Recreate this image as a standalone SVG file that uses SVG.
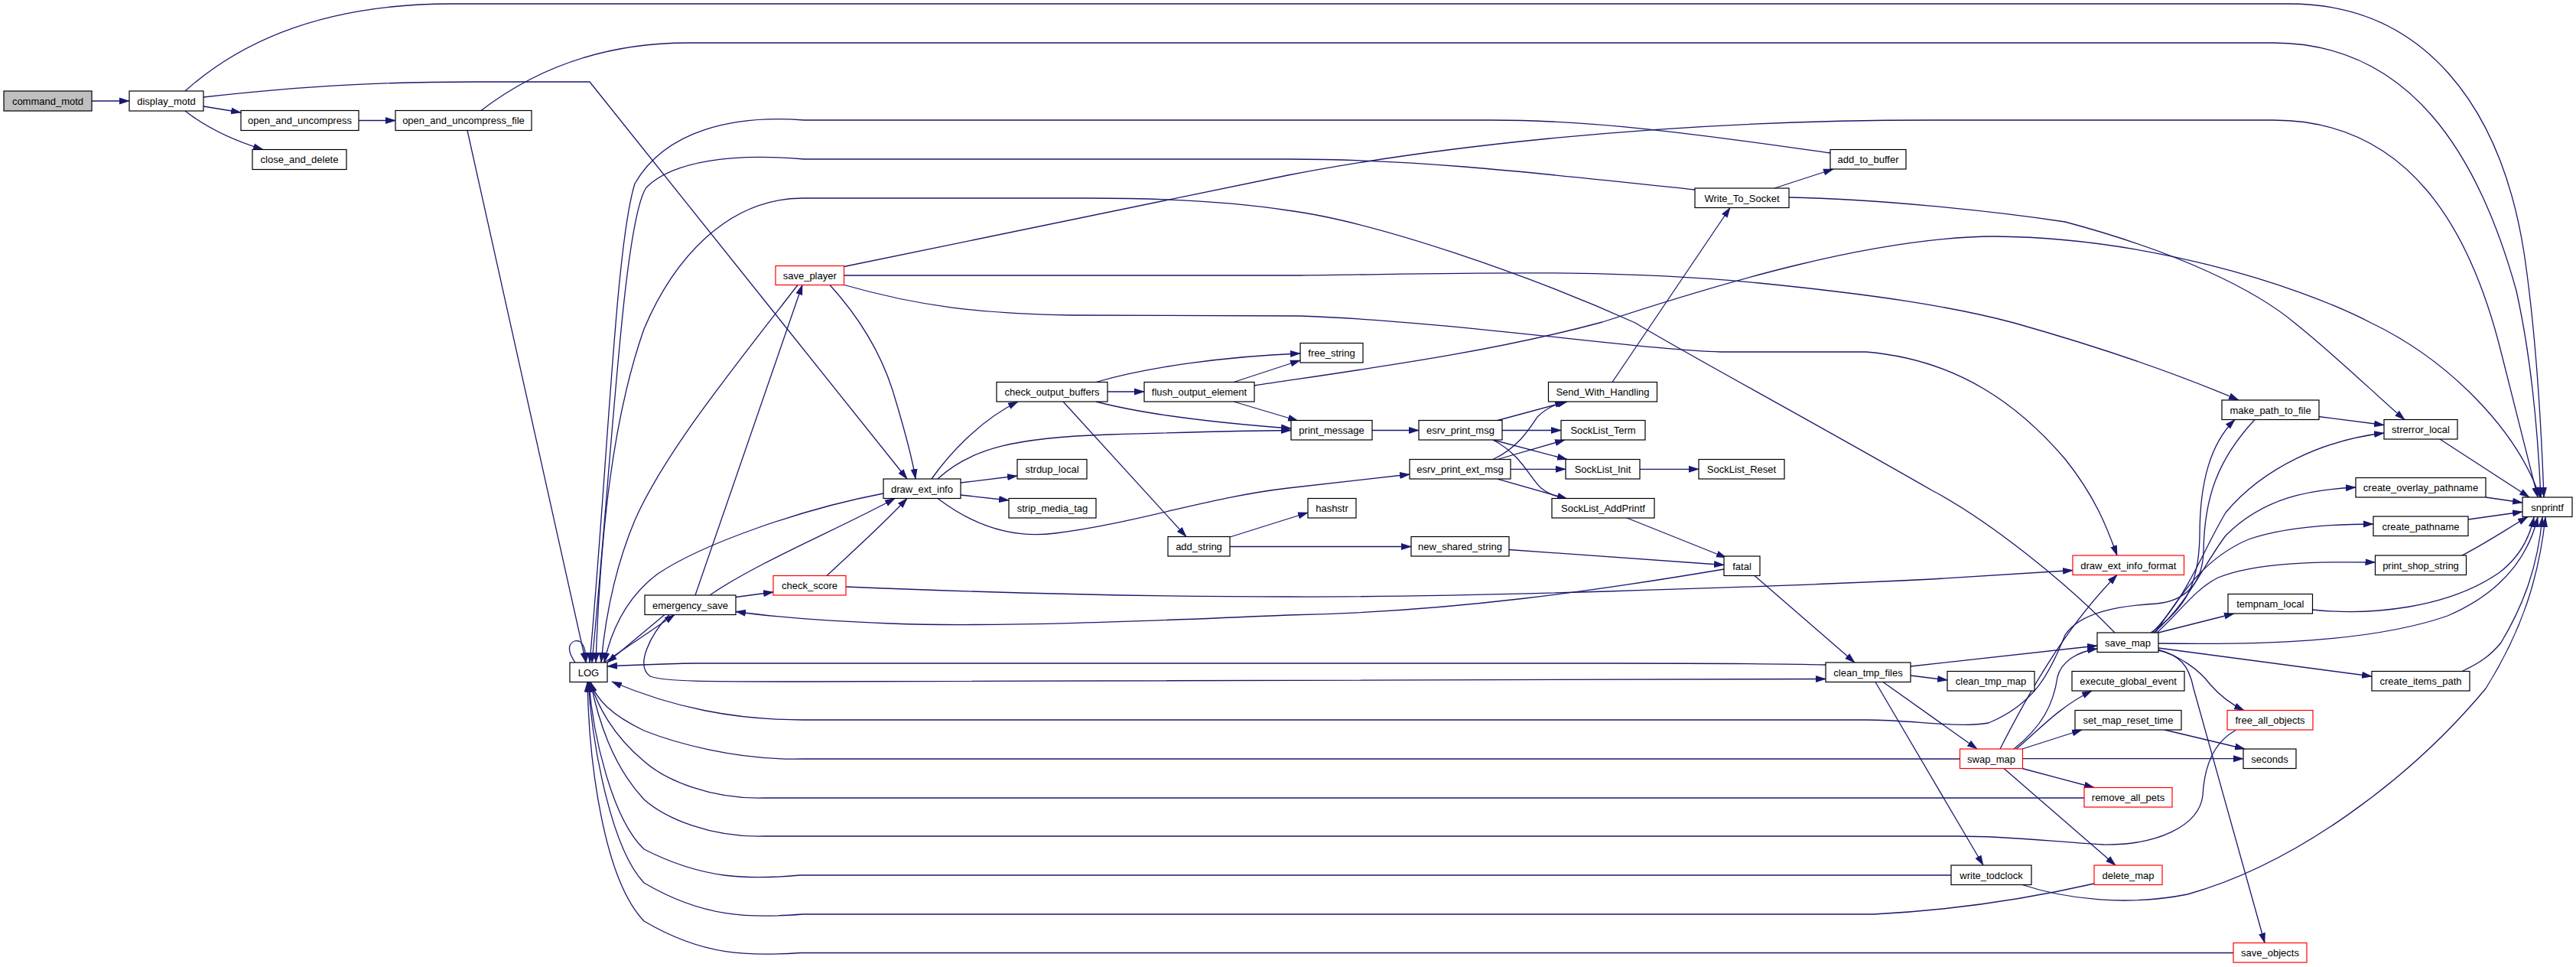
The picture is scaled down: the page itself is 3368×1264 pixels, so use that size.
<svg xmlns="http://www.w3.org/2000/svg" width="3368" height="1264" viewBox="0 0 3368 1264">
<style>
.n rect{fill:#fff;stroke:#000;stroke-width:1.2}
.n.r rect{stroke:#ff0000}
.n.root rect{fill:#bfbfbf}
.n text{font-family:"Liberation Sans",Arial,sans-serif;font-size:13px;fill:#000;text-anchor:middle}
.e path{fill:none;stroke:#191970;stroke-width:1.3;marker-end:url(#a)}
</style>
<defs>
<marker id="a" markerWidth="14" markerHeight="10" refX="13" refY="5" orient="auto" markerUnits="userSpaceOnUse"><path d="M0,0.5 L14,5 L0,9.5 z" fill="#191970"/></marker>
</defs>
<rect width="3368" height="1264" fill="#fff"/>
<g id="edges" class="e">
<path d="M120,132 L169,132"/>
<path d="M242,119 C330,40 450,5 590,5 L2993,5 C3170,5 3270,140 3300,330 C3315,430 3322,540 3326,650"/>
<path d="M266,127 C400,112 500,107 620,107 L771,107 L1186,626"/>
<path d="M266,139 L315,147"/>
<path d="M242,145 C265,163 300,182 344,195.5"/>
<path d="M469,157.5 L517,157.5"/>
<path d="M629,144.5 C700,90 790,56 900,56 L2972,56 C3150,56 3240,200 3290,380 C3310,470 3318,560 3322,650"/>
<path d="M611,170.5 L766,866"/>
<path d="M752,866 C738,846 746,836 757,838 C764,841 766,852 766,866"/>
<path d="M1103.5,348.5 L1684,229 C1850,197 2150,157 2526,157 L2972,157 C3150,157 3230,300 3270,460 C3290,540 3305,600 3318,650"/>
<path d="M1103.5,360 L1700,360 C1900,358 2100,350 2300,370 C2450,385 2550,400 2633,422 C2750,455 2850,490 2927,523"/>
<path d="M1104,372.5 C1200,400 1280,410 1400,412 L1700,413 C1900,420 2150,458 2250,460 L2440,460 C2560,470 2640,530 2700,600 C2740,650 2755,690 2768,726"/>
<path d="M1043,372.5 C960,480 870,590 830,680 C805,740 792,800 786,866"/>
<path d="M1085,372.5 C1110,400 1150,450 1170,520 C1185,570 1193,600 1197,626"/>
<path d="M909,778 L1049,372.5"/>
<path d="M928,778 C990,735 1100,690 1170,651.5"/>
<path d="M1081,752.5 C1110,725 1150,690 1186,651.5"/>
<path d="M1155,645 C1050,665 920,710 860,750 C820,780 800,820 790,866"/>
<path d="M962,780.5 L1011,774"/>
<path d="M1106,767 C1300,775 1500,780 1684,780 C1900,781 2300,768 2526,757 L2710,745.5"/>
<path d="M2254,744 C2100,770 1900,800 1684,804 C1500,812 1300,820 1164,815 C1080,812 1010,806 962,799.5"/>
<path d="M1218,626 C1240,595 1280,550 1331,525"/>
<path d="M1226,626 C1270,585 1330,572 1450,568 C1550,565 1620,563 1688,562.5"/>
<path d="M1256,631 L1330,622"/>
<path d="M1256,647 L1319,654"/>
<path d="M1226,651.5 C1270,685 1320,705 1380,697 C1480,685 1580,650 1684,638 L1843,620"/>
<path d="M1448,512 L1496,512"/>
<path d="M1433,499.5 C1500,480 1600,466 1700,462"/>
<path d="M1613,499.5 L1700,471"/>
<path d="M1433,525 C1490,540 1580,552 1688,560"/>
<path d="M1613,525 L1697,550"/>
<path d="M1390,525 L1551,701.5"/>
<path d="M1608,702 L1710,670"/>
<path d="M1608,714.5 L1845,714.5"/>
<path d="M1973,718.5 L2254,738.5"/>
<path d="M2127,677 L2257,729"/>
<path d="M2294,752.5 L2425,866"/>
<path d="M1794,562.5 L1855,562.5"/>
<path d="M1958,549.5 L2049,525"/>
<path d="M1964,562.5 L2041,562.5"/>
<path d="M1952,575 L2049,600.5"/>
<path d="M1952,575 C1990,595 2000,625 2015,638 C2025,646 2035,650 2049,652"/>
<path d="M1952,600.5 C1985,585 2000,560 2010,545 C2020,535 2035,528 2046,525"/>
<path d="M1958,600.5 L2046,575"/>
<path d="M1975,613.3 L2047,613.3"/>
<path d="M1958,626 L2049,652"/>
<path d="M2144,613.3 L2221,613.3"/>
<path d="M2108,499.5 L2262,271.5"/>
<path d="M2320,246 L2397,221"/>
<path d="M2216,248 C2000,225 1850,208 1684,208 L1051,208 C960,200 880,210 845,245 C815,290 800,600 774,866"/>
<path d="M2393,200 C2250,180 2100,157 1950,157 L1051,157 C960,150 870,170 830,240 C805,320 795,600 771,866"/>
<path d="M2339,258 C2450,260 2600,275 2700,290 C2850,330 2950,380 3000,422 C3060,470 3110,520 3144,548.5"/>
<path d="M1640,504 C1800,480 1950,460 2095,421 C2250,370 2450,310 2607,309 C2800,310 3000,370 3100,422 C3200,470 3290,560 3321,650"/>
<path d="M2765,827 C2700,760 2600,680 2526,641 C2350,540 2200,460 2138,422 C2000,360 1800,290 1684,275 C1600,262 1500,259 1422,259 L1050,259 C950,259 880,340 842,430 C800,550 785,700 779,866"/>
<path d="M3031,544.5 L3117,555.5"/>
<path d="M3190,574 L3307,650"/>
<path d="M3250,650 L3298,657"/>
<path d="M3227,679 L3298,669"/>
<path d="M3219,726 C3250,710 3280,690 3305,675.5"/>
<path d="M3023,797 C3100,805 3200,795 3267,749 C3295,728 3308,700 3313,676"/>
<path d="M2822,841 C2950,843 3100,840 3200,805 C3270,775 3305,730 3318,676"/>
<path d="M2644,1156.5 C2700,1175 2780,1185 2860,1169 C3000,1130 3150,1020 3250,900 C3300,820 3320,750 3328,676"/>
<path d="M3219,877.5 C3245,865 3258,855 3270,840 C3300,790 3318,740 3324,676"/>
<path d="M2822,827 L2921,802"/>
<path d="M2820,827 C2850,800 2870,770 2900,755 C2950,735 3030,734 3105.5,735"/>
<path d="M2818,827 C2850,780 2880,730 2940,705 C2990,688 3050,685 3103,685"/>
<path d="M2816,827 C2860,790 2880,740 2910,700 C2960,650 3020,640 3080,637"/>
<path d="M2814,827 C2860,780 2880,720 2910,670 C2960,610 3040,575 3117,566"/>
<path d="M2812,827 C2860,795 2875,760 2876,700 C2876,630 2890,580 2922,548.5"/>
<path d="M2948,548.5 C2900,600 2882,650 2881,720 C2880,760 2860,785 2820,789 C2770,792 2720,800 2700,830 C2680,880 2660,920 2600,945 C2560,952 2500,941 2440,941 L1050,941 C960,941 880,925 800,891"/>
<path d="M2615,979 C2650,910 2700,820 2768,751.5"/>
<path d="M2633,979 C2670,950 2685,920 2690,885 C2695,865 2715,852 2742,848"/>
<path d="M2498,871 L2742,844"/>
<path d="M2498,883 L2546,889"/>
<path d="M2462,891.5 L2585,979"/>
<path d="M2452,891.5 L2593,1131"/>
<path d="M2387,869 C2300,867 2200,867 2100,867 L910,867 C860,868 830,869 794,871"/>
<path d="M875,803.5 C850,830 830,870 850,884 C870,891 920,891 1050,891 L2387,887.5"/>
<path d="M869,803.5 L794,866"/>
<path d="M790,866 L882,803.5"/>
<path d="M2562.5,992 L1050,992 C960,994 880,970 842,955 C800,935 780,915 772,891.5"/>
<path d="M2725,1043 L1000,1043 C930,1045 870,1020 842,995 C800,960 780,920 772,891.5"/>
<path d="M2923,954.5 C2895,970 2882,1000 2880,1040 C2875,1080 2820,1105 2750,1104 C2680,1100 2630,1093 2560,1093 L1000,1093 C930,1095 870,1070 842,1045 C800,1000 782,940 772,891.5"/>
<path d="M2551,1144 L1046,1144 C980,1150 920,1150 842,1110 C800,1070 775,960 770,891.5"/>
<path d="M2738,1155 C2650,1175 2550,1190 2450,1195 L1050,1195 C980,1200 920,1200 842,1154 C800,1110 775,980 769,891.5"/>
<path d="M2920,1245.5 L1046,1245.5 C980,1250 920,1250 842,1204 C790,1150 770,1000 768,891.5"/>
<path d="M2822,849 C2850,858 2875,875 2890,895 C2905,912 2920,922 2934,928.5"/>
<path d="M2822,850 C2850,856 2862,870 2868,900 L2961,1232.5"/>
<path d="M2822,847 L3101,884"/>
<path d="M2636,979 C2660,960 2690,925 2735,903"/>
<path d="M2644,979 L2722,954"/>
<path d="M2645,991.7 L2933,991.7"/>
<path d="M2644,1004.5 L2738,1029.5"/>
<path d="M2620,1004.5 L2766,1131"/>
<path d="M2830,954 L2935,979"/>
</g>
<g id="command_motd" class="n root"><rect x="5" y="119" width="115" height="26"/><text x="62.5" y="136.5">command_motd</text></g>
<g id="display_motd" class="n"><rect x="169" y="119" width="97" height="26"/><text x="217.5" y="136.5">display_motd</text></g>
<g id="open_and_uncompress" class="n"><rect x="315" y="144.5" width="154" height="26"/><text x="392" y="162">open_and_uncompress</text></g>
<g id="open_and_uncompress_file" class="n"><rect x="517" y="144.5" width="178" height="26"/><text x="606" y="162">open_and_uncompress_file</text></g>
<g id="close_and_delete" class="n"><rect x="330" y="195.5" width="123" height="26"/><text x="391.5" y="213">close_and_delete</text></g>
<g id="LOG" class="n"><rect x="745" y="866" width="49" height="25.5"/><text x="769.5" y="883.5">LOG</text></g>
<g id="save_player" class="n r"><rect x="1014" y="347.5" width="89.5" height="25"/><text x="1058.75" y="364.5">save_player</text></g>
<g id="emergency_save" class="n"><rect x="843" y="778" width="119" height="25.5"/><text x="902.5" y="795.5">emergency_save</text></g>
<g id="check_score" class="n r"><rect x="1011" y="752.5" width="95" height="25.5"/><text x="1058.5" y="770">check_score</text></g>
<g id="draw_ext_info" class="n"><rect x="1155" y="626" width="101" height="25.5"/><text x="1205.5" y="643.5">draw_ext_info</text></g>
<g id="check_output_buffers" class="n"><rect x="1303" y="499.5" width="145" height="25.5"/><text x="1375.5" y="517">check_output_buffers</text></g>
<g id="flush_output_element" class="n"><rect x="1496" y="499.5" width="144" height="25.5"/><text x="1568" y="517">flush_output_element</text></g>
<g id="strdup_local" class="n"><rect x="1330" y="600.5" width="91" height="25.5"/><text x="1375.5" y="618">strdup_local</text></g>
<g id="strip_media_tag" class="n"><rect x="1319" y="651.5" width="114" height="25.5"/><text x="1376" y="669">strip_media_tag</text></g>
<g id="add_string" class="n"><rect x="1527" y="701.5" width="81" height="25.5"/><text x="1567.5" y="719">add_string</text></g>
<g id="free_string" class="n"><rect x="1700" y="448.5" width="82" height="25.5"/><text x="1741" y="466">free_string</text></g>
<g id="print_message" class="n"><rect x="1688" y="549.5" width="106" height="25.5"/><text x="1741" y="567">print_message</text></g>
<g id="esrv_print_msg" class="n"><rect x="1855" y="549.5" width="109" height="25.5"/><text x="1909.5" y="567">esrv_print_msg</text></g>
<g id="esrv_print_ext_msg" class="n"><rect x="1843" y="600.5" width="132" height="25.5"/><text x="1909" y="618">esrv_print_ext_msg</text></g>
<g id="hashstr" class="n"><rect x="1710" y="651.5" width="63" height="25.5"/><text x="1741.5" y="669">hashstr</text></g>
<g id="new_shared_string" class="n"><rect x="1845" y="701.5" width="128" height="25.5"/><text x="1909" y="719">new_shared_string</text></g>
<g id="Send_With_Handling" class="n"><rect x="2024.5" y="499.5" width="142" height="25.5"/><text x="2095.5" y="517">Send_With_Handling</text></g>
<g id="SockList_Term" class="n"><rect x="2041" y="549.5" width="110" height="25.5"/><text x="2096" y="567">SockList_Term</text></g>
<g id="SockList_Init" class="n"><rect x="2047" y="600.5" width="97" height="25.5"/><text x="2095.5" y="618">SockList_Init</text></g>
<g id="SockList_Reset" class="n"><rect x="2221" y="600.5" width="112" height="25.5"/><text x="2277" y="618">SockList_Reset</text></g>
<g id="SockList_AddPrintf" class="n"><rect x="2029" y="651.5" width="134" height="25.5"/><text x="2096" y="669">SockList_AddPrintf</text></g>
<g id="fatal" class="n"><rect x="2254" y="727" width="47" height="25.5"/><text x="2277.5" y="744.5">fatal</text></g>
<g id="Write_To_Socket" class="n"><rect x="2216" y="246" width="123" height="25.5"/><text x="2277.5" y="263.5">Write_To_Socket</text></g>
<g id="add_to_buffer" class="n"><rect x="2393" y="195.5" width="99" height="25.5"/><text x="2442.5" y="213">add_to_buffer</text></g>
<g id="clean_tmp_files" class="n"><rect x="2387" y="866" width="111" height="25.5"/><text x="2442.5" y="883.5">clean_tmp_files</text></g>
<g id="draw_ext_info_format" class="n r"><rect x="2710" y="726" width="145.5" height="25.5"/><text x="2782.75" y="743.5">draw_ext_info_format</text></g>
<g id="make_path_to_file" class="n"><rect x="2905" y="523" width="127" height="25.5"/><text x="2968.5" y="540.5">make_path_to_file</text></g>
<g id="strerror_local" class="n"><rect x="3117" y="548.5" width="96" height="25.5"/><text x="3165" y="566">strerror_local</text></g>
<g id="create_overlay_pathname" class="n"><rect x="3080" y="624.5" width="170" height="25.5"/><text x="3165" y="642">create_overlay_pathname</text></g>
<g id="snprintf" class="n"><rect x="3298" y="650" width="65" height="25.5"/><text x="3330.5" y="667.5">snprintf</text></g>
<g id="create_pathname" class="n"><rect x="3103" y="675" width="124" height="25.5"/><text x="3165" y="692.5">create_pathname</text></g>
<g id="print_shop_string" class="n"><rect x="3105.5" y="726" width="119" height="25.5"/><text x="3165" y="743.5">print_shop_string</text></g>
<g id="tempnam_local" class="n"><rect x="2913" y="776.5" width="110.5" height="25.5"/><text x="2968.25" y="794">tempnam_local</text></g>
<g id="save_map" class="n"><rect x="2742" y="827" width="80" height="25.5"/><text x="2782" y="844.5">save_map</text></g>
<g id="clean_tmp_map" class="n"><rect x="2546" y="877.5" width="114" height="25.5"/><text x="2603" y="895">clean_tmp_map</text></g>
<g id="execute_global_event" class="n"><rect x="2709" y="877.5" width="147" height="25.5"/><text x="2782.5" y="895">execute_global_event</text></g>
<g id="create_items_path" class="n"><rect x="3101" y="877.5" width="128" height="25.5"/><text x="3165" y="895">create_items_path</text></g>
<g id="set_map_reset_time" class="n"><rect x="2713" y="928.5" width="139" height="25.5"/><text x="2782.5" y="946">set_map_reset_time</text></g>
<g id="free_all_objects" class="n r"><rect x="2912" y="928.5" width="112" height="25.5"/><text x="2968" y="946">free_all_objects</text></g>
<g id="swap_map" class="n r"><rect x="2562.5" y="979" width="82" height="25.5"/><text x="2603.5" y="996.5">swap_map</text></g>
<g id="seconds" class="n"><rect x="2933" y="979" width="69" height="25.5"/><text x="2967.5" y="996.5">seconds</text></g>
<g id="remove_all_pets" class="n r"><rect x="2725" y="1029.5" width="115" height="25.5"/><text x="2782.5" y="1047">remove_all_pets</text></g>
<g id="write_todclock" class="n"><rect x="2551" y="1131" width="105" height="25.5"/><text x="2603.5" y="1148.5">write_todclock</text></g>
<g id="delete_map" class="n r"><rect x="2738" y="1131" width="89" height="25.5"/><text x="2782.5" y="1148.5">delete_map</text></g>
<g id="save_objects" class="n r"><rect x="2920" y="1232.5" width="96" height="25.5"/><text x="2968" y="1250">save_objects</text></g>
</svg>
